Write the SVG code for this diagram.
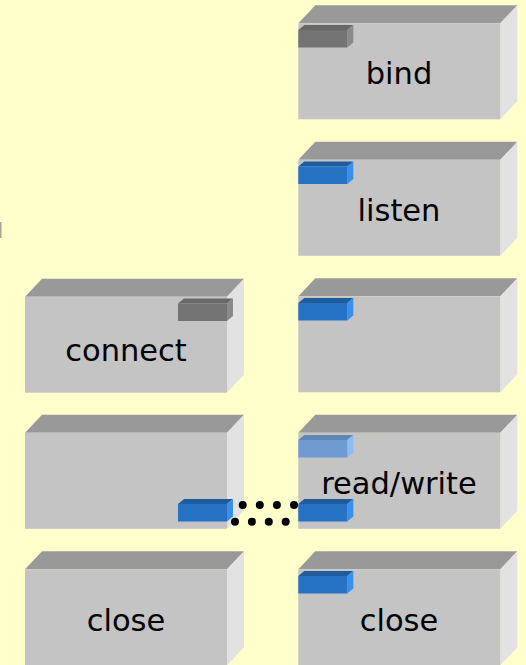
<svg xmlns="http://www.w3.org/2000/svg" xmlns:xlink="http://www.w3.org/1999/xlink" width="526" height="665" viewBox="0 0 526 665">
  <style>
    .front { fill: #c4c4c4; }
    .top { fill: #999999; }
    .side { fill: #e2e2e2; }
    .label { font-family: "DejaVu Sans", Verdana, sans-serif; font-size: 30.5px; fill: #000; text-anchor: middle; }
    .dots { fill: none; stroke: #000; stroke-width: 8; stroke-linecap: round; }
  </style>
  <defs>
    <!-- 3D block: front face at origin, 202 x 96, depth offset up-right -->
    <g id="block">
      <polygon class="top" points="0,0 17,-18 219,-18 202,0"/>
      <polygon class="side" points="202,0 219,-18 219,78 202,96"/>
      <rect class="front" x="0" y="0" width="202" height="96"/>
    </g>
    <!-- small socket tabs, front face 49 x 17.5 -->
    <g id="tab-grey">
      <polygon fill="#686868" points="0,0 6,-5 55,-5 49,0"/>
      <polygon fill="#8a8a8a" points="49,0 55,-5 55,12.5 49,17.5"/>
      <rect fill="#747474" x="0" y="0" width="49" height="17.5"/>
    </g>
    <g id="tab-blue">
      <polygon fill="#1f5c9e" points="0,0 6,-5 55,-5 49,0"/>
      <polygon fill="#3a8fe8" points="49,0 55,-5 55,12.5 49,17.5"/>
      <rect fill="#2673c6" x="0" y="0" width="49" height="17.5"/>
    </g>
    <g id="tab-pale">
      <polygon fill="#5f87b5" points="0,0 6,-5 55,-5 49,0"/>
      <polygon fill="#8cbcf0" points="49,0 55,-5 55,12.5 49,17.5"/>
      <rect fill="#6f9bd0" x="0" y="0" width="49" height="17.5"/>
    </g>
  </defs>

  <rect width="526" height="665" fill="#ffffcc"/>
  <rect x="0" y="222" width="1.5" height="16" fill="#a5a590"/>

  <!-- server column -->
  <g id="server-bind">
    <use xlink:href="#block" x="298.3" y="23.3"/>
    <use xlink:href="#tab-grey" x="298.3" y="30"/>
    <text class="label" x="399" y="84">bind</text>
  </g>
  <g id="server-listen">
    <use xlink:href="#block" x="298.3" y="159.8"/>
    <use xlink:href="#tab-blue" x="298.3" y="166.5"/>
    <text class="label" x="399" y="221">listen</text>
  </g>
  <g id="server-accept">
    <use xlink:href="#block" x="298.3" y="296.3"/>
    <use xlink:href="#tab-blue" x="298.3" y="303"/>
  </g>
  <g id="server-readwrite">
    <use xlink:href="#block" x="298.3" y="432.8"/>
    <use xlink:href="#tab-pale" x="298.3" y="440"/>
    <use xlink:href="#tab-blue" x="298.3" y="504"/>
    <text class="label" x="399" y="493.5">read/write</text>
  </g>
  <g id="server-close">
    <use xlink:href="#block" x="298.3" y="569.3"/>
    <use xlink:href="#tab-blue" x="298.3" y="576"/>
    <text class="label" x="399" y="631">close</text>
  </g>

  <!-- client column -->
  <g id="client-connect">
    <use xlink:href="#block" x="25" y="296.7"/>
    <use xlink:href="#tab-grey" x="178" y="303.5"/>
    <text class="label" x="126" y="361">connect</text>
  </g>
  <g id="client-readwrite">
    <use xlink:href="#block" x="25" y="432.8"/>
    <use xlink:href="#tab-blue" x="178" y="504"/>
  </g>
  <g id="client-close">
    <use xlink:href="#block" x="25" y="569.3"/>
    <text class="label" x="126" y="631">close</text>
  </g>

  <!-- connection between the two sockets -->
  <g id="connectors">
    <line class="dots" x1="242.7" y1="505" x2="294" y2="505" stroke-dasharray="0 17.1"/>
    <line class="dots" x1="235" y1="521.7" x2="285.7" y2="521.7" stroke-dasharray="0 16.9"/>
  </g>
</svg>
